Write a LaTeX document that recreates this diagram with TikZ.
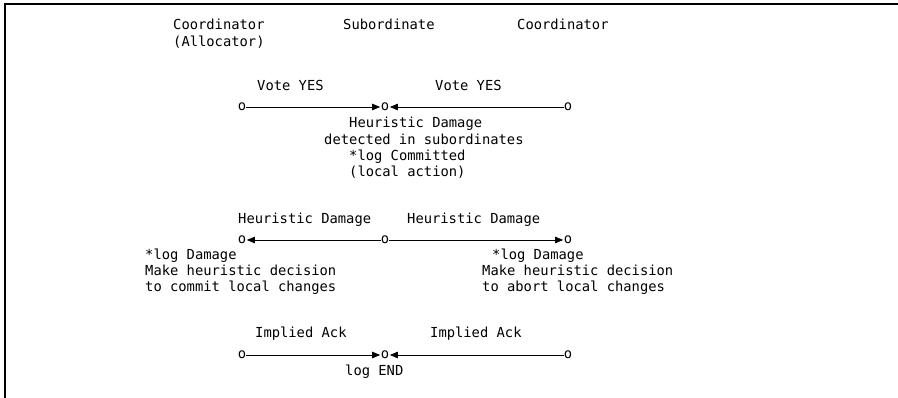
\documentclass[tikz,border=0pt]{standalone}
\usepackage{fontspec}
\setmonofont{DejaVu Sans Mono}
\usetikzlibrary{arrows.meta}
\begin{document}
\begin{tikzpicture}[x=1pt,y=-1pt,
  lbl/.style={anchor=mid west,inner sep=0pt,font=\ttfamily\fontsize{13.8}{15}\selectfont},
  endpt/.style={inner sep=0pt,font=\ttfamily\fontsize{13.8}{15}\selectfont},
  msg/.style={line width=0.9pt,-{Triangle[length=8pt,width=6.5pt]},shorten >=0.5pt},
  frame/.style={line width=1.4pt}]
\useasboundingbox (0,0) rectangle (898,398);

% frame: top rule and left rule
\coordinate (fTL) at (5,4);
\coordinate (fTR) at (898,4);
\coordinate (fBL) at (5,398);
\draw[frame] (fTR) -- (fTL) -- (fBL);

% column headings
\node[lbl] (hA)  at (173,27) {Coordinator};
\node[lbl] (hA2) at (173,44) {(Allocator)};
\node[lbl] (hS)  at (343,27) {Subordinate};
\node[lbl] (hC)  at (517,27) {Coordinator};

% row 1: votes
\node[endpt] (a1) at (242,107) {o};
\node[endpt] (s1) at (385,107) {o};
\node[endpt] (c1) at (568,107) {o};
\node[lbl] (v1) at (257,88) {Vote YES};
\node[lbl] (v2) at (435,88) {Vote YES};
\draw[msg] (a1) -- (s1);
\draw[msg] (c1) -- (s1);
\node[lbl] (t1) at (349,125) {Heuristic Damage};
\node[lbl] (t2) at (324,142) {detected in subordinates};
\node[lbl] (t3) at (349,158) {*log Committed};
\node[lbl] (t4) at (349,174) {(local action)};

% row 2: heuristic damage
\node[endpt] (a2) at (242,240) {o};
\node[endpt] (s2) at (385,240) {o};
\node[endpt] (c2) at (568,240) {o};
\node[lbl] (d1) at (238,221) {Heuristic Damage};
\node[lbl] (d2) at (407,221) {Heuristic Damage};
\draw[msg] (s2) -- (a2);
\draw[msg] (s2) -- (c2);
\node[lbl] (l1) at (145,257) {*log Damage};
\node[lbl] (l2) at (145,273) {Make heuristic decision};
\node[lbl] (l3) at (145,289) {to commit local changes};
\node[lbl] (r1) at (492,257) {*log Damage};
\node[lbl] (r2) at (482,273) {Make heuristic decision};
\node[lbl] (r3) at (482,289) {to abort local changes};

% row 3: implied acknowledgements
\node[endpt] (a3) at (242,355) {o};
\node[endpt] (s3) at (385,355) {o};
\node[endpt] (c3) at (568,355) {o};
\node[lbl] (i1) at (255,335) {Implied Ack};
\node[lbl] (i2) at (430,335) {Implied Ack};
\draw[msg] (a3) -- (s3);
\draw[msg] (c3) -- (s3);
\node[lbl] (e1) at (345,373) {log END};
\end{tikzpicture}
\end{document}
